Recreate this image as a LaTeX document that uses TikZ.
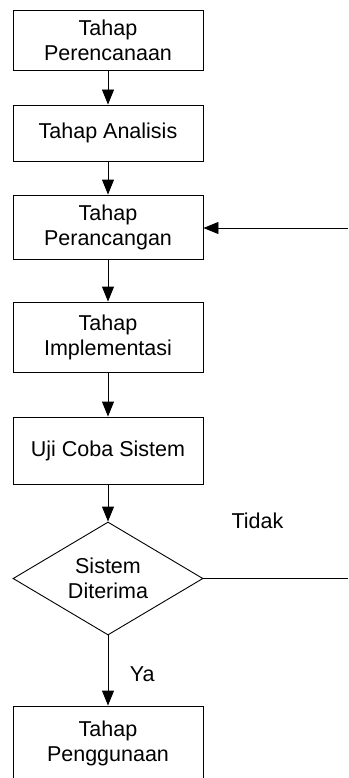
\documentclass[tikz,border=0pt]{standalone}
\usepackage{fontspec}
\setmainfont{Liberation Sans}
\usetikzlibrary{shapes.geometric,arrows.meta}
\begin{document}
\begin{tikzpicture}[x=1pt,y=1pt,
  every node/.style={font=\fontsize{21.5pt}{25pt}\selectfont},
  stepbox/.style={draw, line width=0.9pt, rectangle, minimum width=190pt, inner sep=0pt, align=center},
  decide/.style={draw, line width=0.9pt, diamond, aspect=1.68, minimum width=190pt, minimum height=113pt, inner sep=0pt, align=center},
  flow/.style={line width=0.9pt, -{Triangle[length=15pt,width=12pt]}},
  plain/.style={line width=0.9pt}]
\clip (0,0) rectangle (348,-778);
\useasboundingbox (0,0) rectangle (348,-778);
\node[stepbox, minimum height=60pt] (b1) at (108,-40) {Tahap\\Perencanaan};
\node[stepbox, minimum height=56pt] (b2) at (108,-133) {Tahap Analisis};
\node[stepbox, minimum height=64pt] (b3) at (108,-227) {Tahap\\Perancangan};
\node[stepbox, minimum height=70pt] (b4) at (108,-337) {Tahap\\Implementasi};
\node[stepbox, minimum height=67pt] (b5) at (108,-450.5) {Uji Coba Sistem};
\node[decide] (d) at (108,-578.5) {Sistem\\Diterima};
\node[stepbox, minimum height=75pt] (b6) at (108,-743.5) {Tahap\\Penggunaan};
\coordinate (r1) at (348,-578.5);
\coordinate (r2) at (348,-228);
\draw[flow] (b1) -- (b2);
\draw[flow] (b2) -- (b3);
\draw[flow] (b3) -- (b4);
\draw[flow] (b4) -- (b5);
\draw[flow] (b5) -- (d.north);
\draw[flow] (d.south) -- node[right, xshift=18pt, yshift=-4pt] (ya) {Ya} (b6);
\draw[plain] (d.east) -- (r1);
\draw[flow] (r2) -- (b3.east |- r2);
\node (tidak) at (257.5,-521) {Tidak};
\end{tikzpicture}
\end{document}
